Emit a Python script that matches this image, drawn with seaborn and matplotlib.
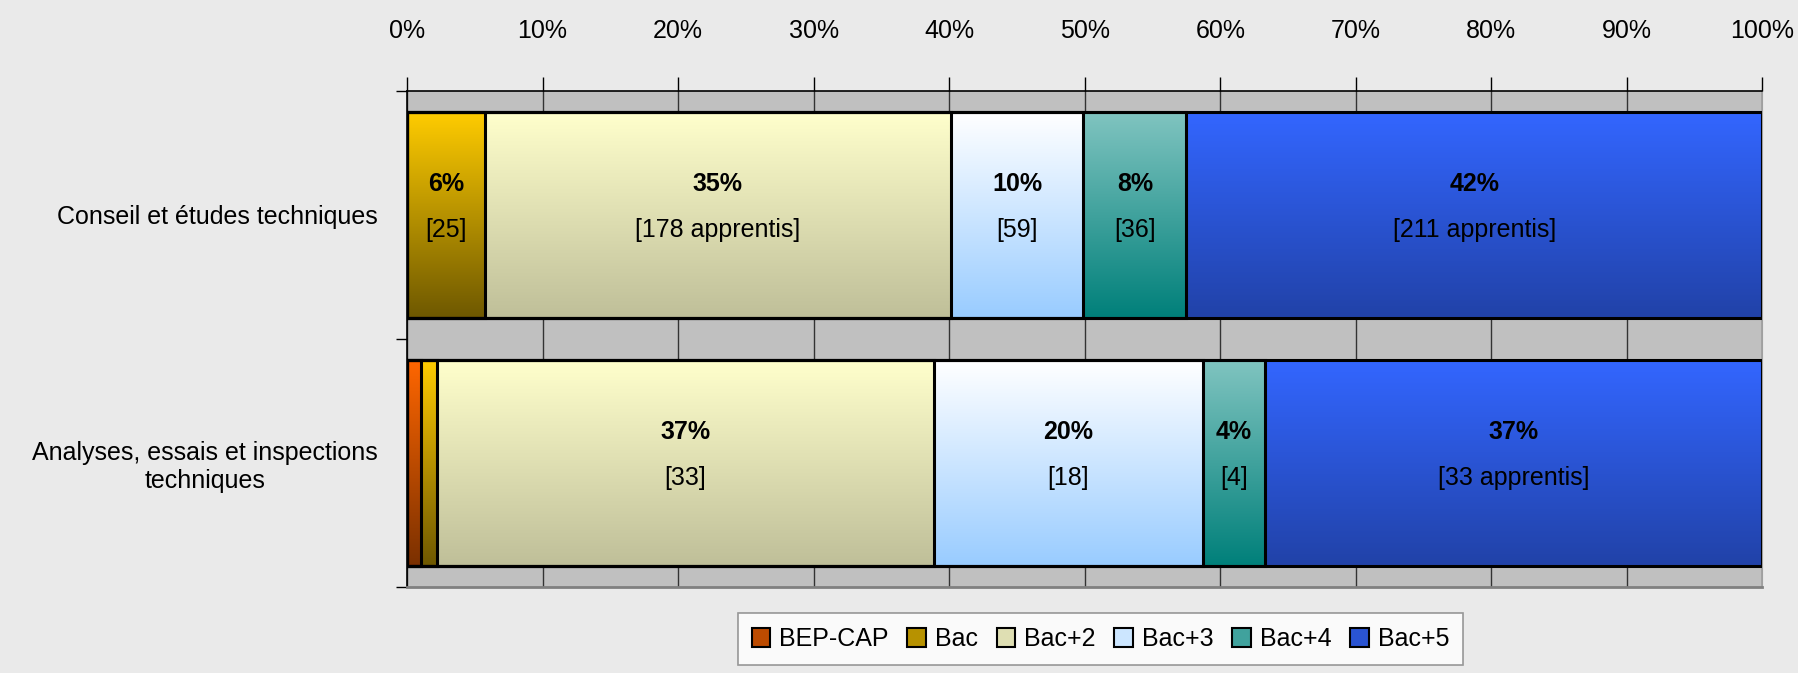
import numpy as np
import pandas as pd
import matplotlib
matplotlib.use("Agg")
import matplotlib.pyplot as plt
import seaborn as sns
from matplotlib.patches import Patch
from matplotlib.colors import to_rgb

# ---- data ----
categories = ["Conseil et études techniques", "Analyses, essais et inspections\ntechniques"]
levels = ["BEP-CAP", "Bac", "Bac+2", "Bac+3", "Bac+4", "Bac+5"]
share_conseil = [0.0, 5.75, 34.35, 9.8, 7.6, 42.5]
share_analyses = [1.0, 1.2, 36.7, 19.8, 4.6, 36.7]
pct_conseil = ["", "6%", "35%", "10%", "8%", "42%"]
pct_analyses = ["", "", "37%", "20%", "4%", "37%"]
cnt_conseil = ["", "[25]", "[178 apprentis]", "[59]", "[36]", "[211 apprentis]"]
cnt_analyses = ["", "", "[33]", "[18]", "[4]", "[33 apprentis]"]
x_ticks = list(range(0, 101, 10))

# gradient colours, top -> bottom
grad_top = ["#FF6600", "#FFCC00", "#FFFFCC", "#FFFFFF", "#80C4C0", "#3366FF"]
grad_bot = ["#7A3000", "#6E5800", "#BFBF99", "#99CCFF", "#00807A", "#2142A8"]

shares = np.array([share_conseil, share_analyses])
cum = shares.cumsum(axis=1)
pct_labels = [pct_conseil, pct_analyses]
cnt_labels = [cnt_conseil, cnt_analyses]

plt.rcParams["font.family"] = ["Liberation Sans", "DejaVu Sans"]

fig = plt.figure(figsize=(17.98, 6.73), dpi=100, facecolor="#EAEAEA")
ax = fig.add_axes([0.2264, 0.128, 0.7538, 0.7374])
ax.set_facecolor("#C0C0C0")

bar_w = 0.83
level_patches = []
for i, lev in enumerate(levels):
    df = pd.DataFrame({"cat": categories, "val": cum[:, i]})
    n_before = len(ax.patches)
    sns.barplot(data=df, x="val", y="cat", orient="h", width=bar_w,
                facecolor="none", edgecolor="black", linewidth=2.2, ax=ax, zorder=3)
    level_patches.append(ax.patches[n_before:])

# gradient fill of each segment
for i in range(len(levels)):
    c_top = np.array(to_rgb(grad_top[i]))
    c_bot = np.array(to_rgb(grad_bot[i]))
    t = np.linspace(0, 1, 200)[:, None]
    img = (c_top * (1 - t) + c_bot * t)[:, None, :]
    for j, p in enumerate(level_patches[i]):
        x1 = p.get_width()
        x0 = x1 - shares[j, i]
        if shares[j, i] <= 0:
            continue
        y0 = p.get_y()
        y1 = y0 + p.get_height()
        ax.imshow(img, extent=(x0, x1, y1, y0), origin="upper", aspect="auto",
                  interpolation="bilinear", zorder=2)

# data labels
for j in range(len(categories)):
    for i in range(len(levels)):
        xc = cum[j, i] - shares[j, i] / 2
        if pct_labels[j][i]:
            ax.text(xc, j - 0.125, pct_labels[j][i], ha="center", va="center",
                    fontsize=18, fontweight="bold", zorder=5)
        if cnt_labels[j][i]:
            ax.text(xc, j + 0.06, cnt_labels[j][i], ha="center", va="center",
                    fontsize=18, zorder=5)

ax.set_xlim(0, 100)
ax.set_ylim(1.5, -0.5)
ax.set_xticks(x_ticks)
ax.set_xticklabels([f"{v}%" for v in x_ticks])
ax.xaxis.tick_top()
ax.tick_params(axis="x", direction="out", length=10, width=1, color="black",
               labelsize=18, pad=24)
ax.set_yticks([0, 1])
ax.set_yticklabels(categories, ha="right", multialignment="center")
ax.set_yticks([-0.5, 0.5, 1.5], minor=True)
ax.tick_params(axis="y", which="major", length=0, labelsize=18, pad=21)
ax.tick_params(axis="y", which="minor", length=8, width=1, color="black")
ax.set_xlabel("")
ax.set_ylabel("")
ax.grid(axis="x", color="#333333", linewidth=1, zorder=1)
ax.set_axisbelow(True)

for s in ["top", "left"]:
    ax.spines[s].set_color("black")
    ax.spines[s].set_linewidth(1.2)
ax.spines["right"].set_color("#A0A0A0")
ax.spines["bottom"].set_color("#808080")
ax.spines["bottom"].set_linewidth(2)

# legend
handles = []
for i in range(len(levels)):
    mid = (np.array(to_rgb(grad_top[i])) + np.array(to_rgb(grad_bot[i]))) / 2
    handles.append(Patch(facecolor=mid, edgecolor="black", linewidth=1.5))
leg = fig.legend(handles, levels, loc="upper center", bbox_to_anchor=(0.612, 0.089),
                 ncol=6, frameon=True, fontsize=18, handlelength=0.75, handleheight=0.8,
                 handletextpad=0.35, columnspacing=0.75, borderpad=0.55,
                 borderaxespad=0, fancybox=False)
leg.get_frame().set_edgecolor("#808080")
leg.get_frame().set_facecolor("white")
leg.get_frame().set_linewidth(1.2)

fig.savefig("out.png", dpi=100, facecolor=fig.get_facecolor())
